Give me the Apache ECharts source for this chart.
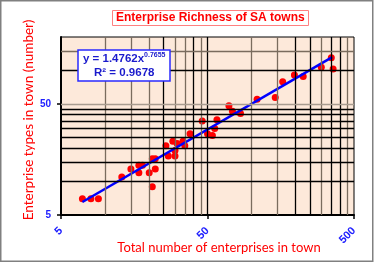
<!DOCTYPE html>
<html>
<head>
<meta charset="utf-8">
<script src="https://cdn.jsdelivr.net/npm/echarts@6/dist/echarts.min.js"></script>
<style>
html,body{margin:0;padding:0;background:#fff;}
#chart{width:375px;height:263px;}
</style>
</head>
<body>
<div id="chart"></div>
<script>
// Data
const totalEnterprises = [7, 8, 9, 13, 15, 17, 17, 18, 20, 21, 21, 22, 22, 26, 27, 29, 30, 30, 31, 34, 35, 38, 46, 50, 54, 56, 58, 70, 74, 84, 109, 145, 163, 196, 225, 299, 350, 360];
const enterpriseTypes  = [7, 7, 7, 11, 13, 14, 12, 14, 12, 16, 9, 16, 13, 21, 17, 23, 19, 17, 22, 23, 21, 27, 35, 27, 26, 30, 36, 48, 43, 41, 55, 57, 79, 91, 88, 107, 130, 103];
// Power trendline end points (y = 1.4762x^0.7655)
const trendX = [7, 355];
const trendY = [6.55, 132];
// Tick labels and gridline values
const xTickLabels = [5, 50, 500];
const yTickLabels = [5, 50];
const xGridValues = [10, 15, 20, 25, 30, 35, 40, 45, 50, 100, 150, 200, 250, 300, 350, 400, 450];
const yGridValues = [10, 15, 20, 25, 30, 35, 40, 45, 50, 100, 150];
const titleText = 'Enterprise Richness of SA towns';
const xName = 'Total number of enterprises in town';
const yName = 'Enterprise types in town (number)';
const eqText = 'y = 1.4762x';
const eqExp = '0.7655';
const r2Text = 'R² = 0.9678';

const BLACK = '#000000', GRAYL = '#7a6c5e', LIGHT = '#a89c90';
const grayX = new Set([10, 15, 20, 30, 35, 45, 100, 150, 300, 450]);
const grayY = new Set([150]);
const lightY = new Set([50]);
const LABEL_FONT = 'Liberation Sans, Arial, sans-serif';

const chart = echarts.init(document.getElementById('chart'), null, {renderer: 'canvas'});

const option = {
  animation: false,
  backgroundColor: '#ffffff',
  title: [{
    text: titleText,
    left: 112, top: 10,
    padding: [2, 4],
    borderColor: '#ff8080', borderWidth: 1,
    textStyle: {color: '#ff0000', fontSize: 12, fontWeight: 'bold', fontFamily: LABEL_FONT}
  }, {
    text: '{a|' + eqText + '}{s|' + eqExp + '}\n{a|' + r2Text + '}',
    left: 78, top: 50,
    padding: [2, 5],
    backgroundColor: '#ffffff',
    borderColor: '#2a2aff', borderWidth: 1.5,
    textStyle: {
      rich: {
        a: {color: '#1a1acc', fontSize: 11.5, fontWeight: 'bold', fontFamily: LABEL_FONT, lineHeight: 14, align: 'center'},
        s: {color: '#1a1acc', fontSize: 7, fontWeight: 'bold', fontFamily: LABEL_FONT, verticalAlign: 'top', lineHeight: 14, padding: [0, 0, 5, 0], align: 'center'}
      }
    }
  }],
  grid: {
    left: 61, right: 21, top: 37, bottom: 48,
    show: true, backgroundColor: '#fde9da', borderColor: '#000', borderWidth: 1
  },
  xAxis: {
    type: 'log', logBase: 10, min: 5, max: 500,
    name: xName, nameLocation: 'middle', nameGap: 26, nameMoveOverlap: false,
    nameTextStyle: {color: '#ff0000', fontSize: 13, fontFamily: 'Lato, sans-serif', padding: [0, 0, 0, 23]},
    axisLine: {show: true, lineStyle: {color: '#000', width: 2}},
    axisTick: {show: true, inside: false, length: 4, lineStyle: {color: '#000', width: 1.5}, customValues: xTickLabels},
    axisLabel: {
      rotate: 45, margin: 14, color: '#2020ff', fontSize: 11, fontWeight: 'bold', fontFamily: LABEL_FONT,
      customValues: xTickLabels,
      formatter: v => String(Math.round(v))
    },
    splitLine: {show: false}, minorTick: {show: false}
  },
  yAxis: {
    type: 'log', logBase: 10, min: 5, max: 200,
    name: yName, nameLocation: 'middle', nameGap: 25, nameMoveOverlap: false,
    nameTextStyle: {color: '#ff0000', fontSize: 13.5, fontFamily: 'Lato, sans-serif', padding: [0, 0, 0, 12]},
    axisLine: {show: true, lineStyle: {color: '#000', width: 2}},
    axisTick: {show: true, inside: false, length: 4, lineStyle: {color: '#000', width: 1.5}, customValues: yTickLabels},
    axisLabel: {
      margin: 10, color: '#2020ff', fontSize: 10, fontWeight: 'bold', fontFamily: LABEL_FONT,
      customValues: yTickLabels,
      formatter: v => String(Math.round(v))
    },
    splitLine: {show: false}
  },
  series: [{
    name: 'grid', type: 'line', data: [], z: 1, silent: true,
    markLine: {
      silent: true, symbol: ['none', 'none'], label: {show: false}, animation: false,
      data: xGridValues.map(v => ({xAxis: v, lineStyle: {color: grayX.has(v) ? GRAYL : BLACK, width: 1.3, type: 'solid'}}))
        .concat(yGridValues.map(v => ({yAxis: v, lineStyle: {color: lightY.has(v) ? LIGHT : (grayY.has(v) ? GRAYL : BLACK), width: 1.3, type: 'solid'}})))
    }
  }, {
    name: 'towns', type: 'scatter', z: 2,
    symbol: 'circle', symbolSize: 7,
    itemStyle: {color: '#ff0000', opacity: 1},
    data: totalEnterprises.map((x, i) => [x, enterpriseTypes[i]])
  }, {
    name: 'trend', type: 'line', z: 3, symbol: 'none',
    lineStyle: {color: '#0000ff', width: 2.5},
    data: trendX.map((x, i) => [x, trendY[i]])
  }],
  graphic: [{
    type: 'rect', silent: true, z: 100,
    shape: {x: 0.75, y: 0.75, width: 372, height: 260.5},
    style: {fill: 'none', stroke: '#808080', lineWidth: 1.5}
  }]
};
chart.setOption(option);
</script>
</body>
</html>
